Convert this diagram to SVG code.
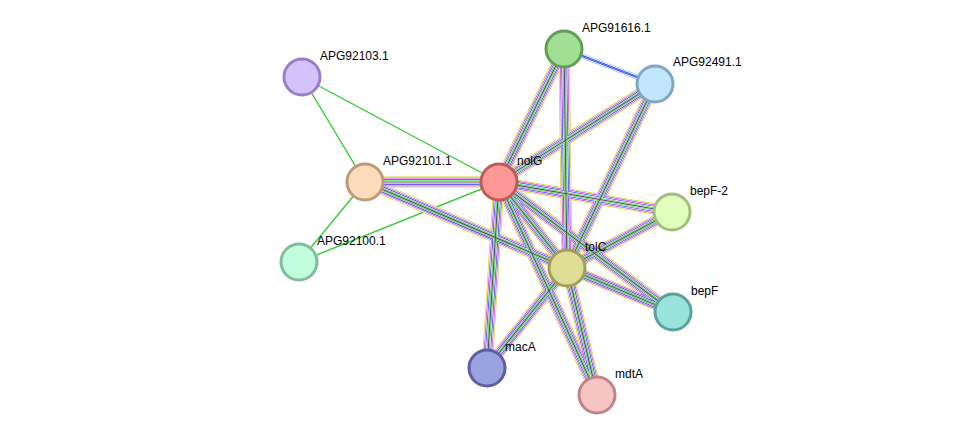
<svg xmlns="http://www.w3.org/2000/svg" xmlns:xlink="http://www.w3.org/1999/xlink" width="976" height="441" viewBox="0 0 976 441">
<style>
.g{stroke:#33cc33;stroke-width:1.4;fill:none}
text{font-family:"Liberation Sans",Arial,sans-serif;font-size:12px;fill:#000}
circle{stroke-width:3}
.s0{stroke:#c8d630;stroke-width:11}
.s1{stroke:#fff;stroke-width:9.6}
.s2{stroke:#d633d6;stroke-width:8.4}
.s3{stroke:#fff;stroke-width:7}
.s4{stroke:#3333ff;stroke-width:5.8}
.s5{stroke:#fff;stroke-width:4.4}
.s6{stroke:#33cc33;stroke-width:3.2}
.s7{stroke:#fff;stroke-width:1.8}
.s8{stroke:#555;stroke-width:1.2}
</style>
<defs>
<path id="e1" d="M365,182L499,182"/>
<path id="e2" d="M365,182L567,268"/>
<path id="e3" d="M499,182L564,49"/>
<path id="e4" d="M499,182L655,84"/>
<path id="e5" d="M499,182L672,212"/>
<path id="e6" d="M499,182L567,268"/>
<path id="e7" d="M499,182L673,312"/>
<path id="e8" d="M499,182L487,368"/>
<path id="e9" d="M499,182L597,395"/>
<path id="e10" d="M564,49L567,268"/>
<path id="e11" d="M655,84L567,268"/>
<path id="e12" d="M567,268L672,212"/>
<path id="e13" d="M567,268L673,312"/>
<path id="e14" d="M567,268L487,368"/>
<path id="e15" d="M567,268L597,395"/>
</defs>
<g id="edges" fill="none">
<line class="g" x1="302" y1="77" x2="499" y2="182"/>
<line class="g" x1="302" y1="77" x2="365" y2="182"/>
<line class="g" x1="299" y1="262" x2="365" y2="182"/>
<line class="g" x1="299" y1="262" x2="499" y2="182"/>
<line x1="564" y1="49" x2="655" y2="84" stroke="#b0a0ff" stroke-width="5"/>
<line x1="564" y1="49" x2="655" y2="84" stroke="#fff" stroke-width="3.6"/>
<line x1="564" y1="49" x2="655" y2="84" stroke="#3333ff" stroke-width="2.2"/>
<line x1="564" y1="49" x2="655" y2="84" stroke="#30c0d0" stroke-width="0.9"/>
<g id="multi">
<use xlink:href="#e1" class="s0"/><use xlink:href="#e2" class="s0"/><use xlink:href="#e3" class="s0"/><use xlink:href="#e4" class="s0"/><use xlink:href="#e5" class="s0"/><use xlink:href="#e6" class="s0"/><use xlink:href="#e7" class="s0"/><use xlink:href="#e8" class="s0"/><use xlink:href="#e9" class="s0"/><use xlink:href="#e10" class="s0"/><use xlink:href="#e11" class="s0"/><use xlink:href="#e12" class="s0"/><use xlink:href="#e13" class="s0"/><use xlink:href="#e14" class="s0"/><use xlink:href="#e15" class="s0"/>
<use xlink:href="#e1" class="s1"/><use xlink:href="#e2" class="s1"/><use xlink:href="#e3" class="s1"/><use xlink:href="#e4" class="s1"/><use xlink:href="#e5" class="s1"/><use xlink:href="#e6" class="s1"/><use xlink:href="#e7" class="s1"/><use xlink:href="#e8" class="s1"/><use xlink:href="#e9" class="s1"/><use xlink:href="#e10" class="s1"/><use xlink:href="#e11" class="s1"/><use xlink:href="#e12" class="s1"/><use xlink:href="#e13" class="s1"/><use xlink:href="#e14" class="s1"/><use xlink:href="#e15" class="s1"/>
<use xlink:href="#e1" class="s2"/><use xlink:href="#e2" class="s2"/><use xlink:href="#e3" class="s2"/><use xlink:href="#e4" class="s2"/><use xlink:href="#e5" class="s2"/><use xlink:href="#e6" class="s2"/><use xlink:href="#e7" class="s2"/><use xlink:href="#e8" class="s2"/><use xlink:href="#e9" class="s2"/><use xlink:href="#e10" class="s2"/><use xlink:href="#e11" class="s2"/><use xlink:href="#e12" class="s2"/><use xlink:href="#e13" class="s2"/><use xlink:href="#e14" class="s2"/><use xlink:href="#e15" class="s2"/>
<use xlink:href="#e1" class="s3"/><use xlink:href="#e2" class="s3"/><use xlink:href="#e3" class="s3"/><use xlink:href="#e4" class="s3"/><use xlink:href="#e5" class="s3"/><use xlink:href="#e6" class="s3"/><use xlink:href="#e7" class="s3"/><use xlink:href="#e8" class="s3"/><use xlink:href="#e9" class="s3"/><use xlink:href="#e10" class="s3"/><use xlink:href="#e11" class="s3"/><use xlink:href="#e12" class="s3"/><use xlink:href="#e13" class="s3"/><use xlink:href="#e14" class="s3"/><use xlink:href="#e15" class="s3"/>
<use xlink:href="#e1" class="s4"/><use xlink:href="#e2" class="s4"/><use xlink:href="#e3" class="s4"/><use xlink:href="#e4" class="s4"/><use xlink:href="#e5" class="s4"/><use xlink:href="#e6" class="s4"/><use xlink:href="#e7" class="s4"/><use xlink:href="#e8" class="s4"/><use xlink:href="#e9" class="s4"/><use xlink:href="#e10" class="s4"/><use xlink:href="#e11" class="s4"/><use xlink:href="#e12" class="s4"/><use xlink:href="#e13" class="s4"/><use xlink:href="#e14" class="s4"/><use xlink:href="#e15" class="s4"/>
<use xlink:href="#e1" class="s5"/><use xlink:href="#e2" class="s5"/><use xlink:href="#e3" class="s5"/><use xlink:href="#e4" class="s5"/><use xlink:href="#e5" class="s5"/><use xlink:href="#e6" class="s5"/><use xlink:href="#e7" class="s5"/><use xlink:href="#e8" class="s5"/><use xlink:href="#e9" class="s5"/><use xlink:href="#e10" class="s5"/><use xlink:href="#e11" class="s5"/><use xlink:href="#e12" class="s5"/><use xlink:href="#e13" class="s5"/><use xlink:href="#e14" class="s5"/><use xlink:href="#e15" class="s5"/>
<use xlink:href="#e1" class="s6"/><use xlink:href="#e2" class="s6"/><use xlink:href="#e3" class="s6"/><use xlink:href="#e4" class="s6"/><use xlink:href="#e5" class="s6"/><use xlink:href="#e6" class="s6"/><use xlink:href="#e7" class="s6"/><use xlink:href="#e8" class="s6"/><use xlink:href="#e9" class="s6"/><use xlink:href="#e10" class="s6"/><use xlink:href="#e11" class="s6"/><use xlink:href="#e12" class="s6"/><use xlink:href="#e13" class="s6"/><use xlink:href="#e14" class="s6"/><use xlink:href="#e15" class="s6"/>
<use xlink:href="#e1" class="s7"/><use xlink:href="#e2" class="s7"/><use xlink:href="#e3" class="s7"/><use xlink:href="#e4" class="s7"/><use xlink:href="#e5" class="s7"/><use xlink:href="#e6" class="s7"/><use xlink:href="#e7" class="s7"/><use xlink:href="#e8" class="s7"/><use xlink:href="#e9" class="s7"/><use xlink:href="#e10" class="s7"/><use xlink:href="#e11" class="s7"/><use xlink:href="#e12" class="s7"/><use xlink:href="#e13" class="s7"/><use xlink:href="#e14" class="s7"/><use xlink:href="#e15" class="s7"/>
<use xlink:href="#e1" class="s8"/><use xlink:href="#e2" class="s8"/><use xlink:href="#e3" class="s8"/><use xlink:href="#e4" class="s8"/><use xlink:href="#e5" class="s8"/><use xlink:href="#e6" class="s8"/><use xlink:href="#e7" class="s8"/><use xlink:href="#e8" class="s8"/><use xlink:href="#e9" class="s8"/><use xlink:href="#e10" class="s8"/><use xlink:href="#e11" class="s8"/><use xlink:href="#e12" class="s8"/><use xlink:href="#e13" class="s8"/><use xlink:href="#e14" class="s8"/><use xlink:href="#e15" class="s8"/>
</g>
</g>
<g id="n-APG92103.1"><circle cx="302" cy="77" r="18" fill="#d4c2fc" stroke="#9a7fc4"/><text x="320" y="60">APG92103.1</text></g>
<g id="n-APG91616.1"><circle cx="564" cy="49" r="18" fill="#a0df94" stroke="#5fa055"/><text x="582" y="32">APG91616.1</text></g>
<g id="n-APG92491.1"><circle cx="655" cy="84" r="18" fill="#c2e6fb" stroke="#7ea8c0"/><text x="673" y="66">APG92491.1</text></g>
<g id="n-APG92101.1"><circle cx="365" cy="182" r="18" fill="#fddcbe" stroke="#c09a78"/><text x="383" y="165">APG92101.1</text></g>
<g id="n-nolG"><circle cx="499" cy="182" r="18" fill="#fe9797" stroke="#c05a5a"/><text x="517" y="165">nolG</text></g>
<g id="n-bepF-2"><circle cx="672" cy="212" r="18" fill="#e1fdbe" stroke="#a3bf7c"/><text x="690" y="195">bepF-2</text></g>
<g id="n-APG92100.1"><circle cx="299" cy="262" r="18" fill="#c2fddc" stroke="#7fbf9a"/><text x="317" y="245">APG92100.1</text></g>
<g id="n-tolC"><circle cx="567" cy="268" r="18" fill="#dfdc96" stroke="#a29f5c"/><text x="585" y="251">tolC</text></g>
<g id="n-bepF"><circle cx="673" cy="312" r="18" fill="#9ae2da" stroke="#5aa19c"/><text x="691" y="295">bepF</text></g>
<g id="n-macA"><circle cx="487" cy="368" r="18" fill="#9aa2df" stroke="#5a61a2"/><text x="505" y="351">macA</text></g>
<g id="n-mdtA"><circle cx="597" cy="395" r="18" fill="#f7c4c4" stroke="#c08686"/><text x="615" y="378">mdtA</text></g>
</svg>
